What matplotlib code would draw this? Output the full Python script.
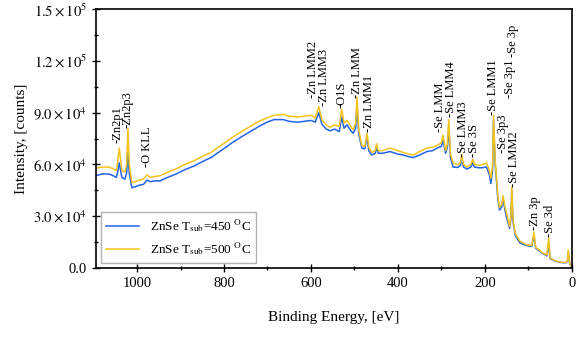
import matplotlib.pyplot as plt
import matplotlib.ticker as ticker

plt.rcParams['font.family'] = ['Liberation Serif', 'DejaVu Serif']
plt.rcParams['mathtext.fontset'] = 'stix'

# Binding energy (eV)
energy = [1095, 1080, 1065, 1055, 1048, 1045, 1041, 1035, 1028, 1024, 1021, 1018, 1012, 1005,
          995, 985, 977, 970, 960, 947, 930, 910, 890, 870, 855, 830, 810, 790, 779, 760,
          740, 720, 701, 685, 664, 650, 632, 615, 600, 590, 582, 575, 565, 556, 545, 535,
          529, 524, 517, 508, 503, 497, 494, 490, 483, 476, 471, 467, 460, 452, 449, 445,
          435, 418, 400, 388, 375, 365, 350, 333, 320, 310, 300, 296, 293, 290, 286, 283,
          279, 273, 262, 256, 253, 249, 241, 232, 228, 224, 211, 196, 190, 186, 182, 180,
          176, 170, 166, 161, 158, 154, 150, 143, 140, 138, 135, 130, 119, 104, 92, 87,
          83, 75, 67, 57, 53, 50, 40, 28, 15, 10, 8, 5, 0]

# Intensity in thousands of counts, T_sub = 500 C
int_500 = [57.9, 58.5, 58.5, 57.5, 56.5, 61, 69.5, 56.5, 55.5, 60, 81, 60, 49.5, 50,
           51, 51.5, 54, 52.5, 53, 53.5, 55.5, 57.5, 60, 62, 64, 67, 70.5, 74, 76, 79,
           82, 85, 87, 88.5, 89, 88, 87.5, 88, 88.5, 87, 93.5, 86, 83, 81.5, 83, 82,
           92, 84, 85.5, 82, 80, 84, 99, 80, 71, 70.5, 78, 70, 67, 68, 72, 68,
           68, 69.5, 68, 67, 66, 65.5, 67.5, 69.5, 70, 71, 72.5, 77, 72, 68, 72, 86,
           66, 61, 59.8, 61, 65.5, 60, 58.5, 60, 63, 60, 59.5, 60.8, 57, 52, 60, 88.6,
           62, 42, 35, 37, 42, 36, 31.8, 24, 30, 47, 28, 20, 15.5, 13.5, 13, 20.8,
           12, 10.5, 8.8, 7.5, 17.4, 6, 4.5, 3.5, 3.2, 4, 10.4, 3, 0.6]

# Intensity in thousands of counts, T_sub = 450 C
int_450 = [53.5, 54.5, 54.5, 53.5, 52.5, 55, 61, 52.5, 51.5, 55, 67, 55, 46.5, 47,
           48, 48.5, 51, 50, 50.5, 50.5, 52.5, 54.5, 57, 59, 61, 64, 67.5, 71, 73, 76,
           79, 82, 84.5, 86, 86, 85, 84.5, 85, 85.5, 84.5, 90, 83.5, 80.5, 79.5, 80.5, 79,
           87.5, 81, 83, 79.5, 78, 81, 94.5, 77.5, 69.5, 69, 76, 68, 65.5, 66.5, 70, 66.5,
           66.5, 67.5, 66, 65.5, 64.5, 64, 65.5, 67.5, 68, 69.5, 70.5, 74, 70, 66.5, 70, 81.6,
           64, 58.5, 58.3, 59.5, 63.7, 58.5, 57.3, 58.5, 61, 58.5, 58, 58.5, 54.5, 49, 57, 85.7,
           60, 40, 33.6, 35.5, 40.5, 34, 29.5, 23, 28.5, 45, 26.5, 19, 14.5, 13, 12.5, 19,
           11.5, 10, 8.5, 7, 14.5, 5.5, 4.3, 3.3, 3, 3.8, 9, 2.8, 0.5]

# Peak labels: text, energy, intensity (thousands) at the label foot
peak_names = ['-Zn2p1', '-Zn2p3', '-O KLL', '-Zn LMM2', '-Zn LMM3', '-O1S', '-Zn LMM',
              '-Zn LMM1', '-Se LMM', '-Se LMM4', '-Se LMM3', '-Se 3S', '-Se LMM1',
              '-Se 3p3', '-Se 3p1', '-Se 3p', '-Se LMM2', '-Zn 3p', '-Se 3d']
peak_energy = [1046, 1021, 977, 596, 571, 529, 494, 467, 302, 278, 250, 225, 181,
               159, 143, 134, 133, 85, 51]
peak_height = [72.4, 81, 58.5, 98.4, 93.8, 92.6, 98.4, 78.7, 78.7, 87.4, 64.3, 64.3, 88.6,
               66.6, 98.4, 122, 47, 22, 18]

ytick_values = [0, 30000, 60000, 90000, 120000, 150000]
ytick_labels = ['0.0', r'$3.0\times10^{4}$', r'$6.0\times10^{4}$', r'$9.0\times10^{4}$',
                r'$1.2\times10^{5}$', r'$1.5\times10^{5}$']

blue = '#2463e6'
yellow = '#f2c31c'

fig = plt.figure(figsize=(5.84, 3.38), dpi=100)
ax = fig.add_axes([0.164, 0.207, 0.815, 0.766])

ax.plot(energy, [v * 1000 for v in int_450], color=blue, lw=1.1,
        label=r'ZnSe T$_{\mathrm{sub}}$=450 $^{\mathrm{O}}$C')
ax.plot(energy, [v * 1000 for v in int_500], color=yellow, lw=1.1,
        label=r'ZnSe T$_{\mathrm{sub}}$=500 $^{\mathrm{O}}$C')

for name, e, h in zip(peak_names, peak_energy, peak_height):
    ax.text(e, h * 1000, name, rotation=90, ha='center', va='bottom', fontsize=9)

ax.set_xlim(1095, 0)
ax.set_ylim(0, 150000)
ax.xaxis.set_major_locator(ticker.MultipleLocator(200))
ax.xaxis.set_minor_locator(ticker.MultipleLocator(100))
ax.set_yticks(ytick_values)
ax.set_yticklabels(ytick_labels)
ax.yaxis.set_minor_locator(ticker.MultipleLocator(15000))

ax.tick_params(which='major', direction='inout', length=6, width=1, labelsize=10.5)
ax.tick_params(which='minor', direction='inout', length=3.5, width=1)
for s in ax.spines.values():
    s.set_linewidth(1.2)

ax.set_xlabel('Binding Energy, [eV]', fontsize=11, labelpad=15)
ax.set_ylabel('Intensity, [counts]', fontsize=11)

ax.legend(loc='lower left', fontsize=9.5, frameon=True, fancybox=False, edgecolor='#a0a0a0',
          handlelength=2.5, borderaxespad=0.4)

plt.savefig('out.png', dpi=100)
